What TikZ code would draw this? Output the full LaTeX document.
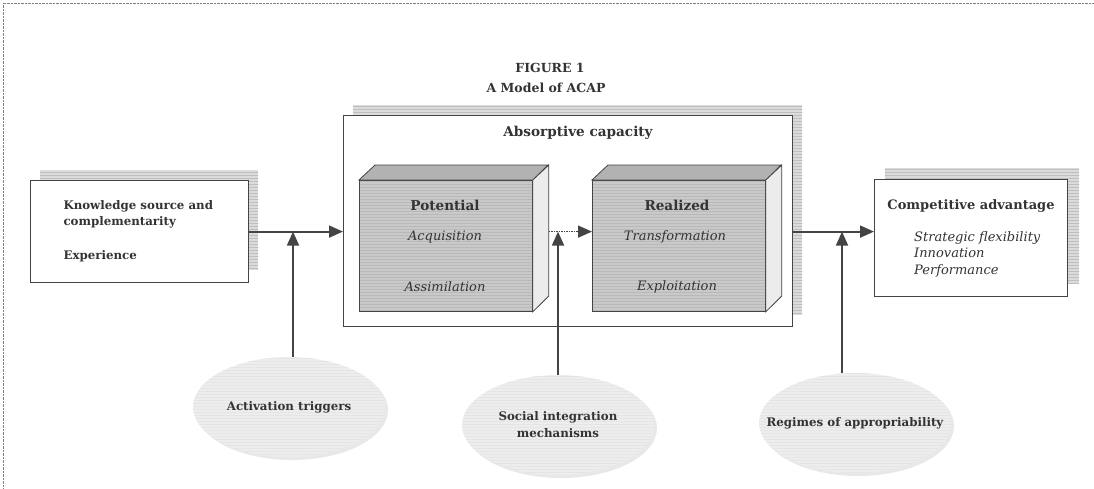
\documentclass[tikz,border=0pt]{standalone}
\usepackage{fontspec}
\setmainfont{DejaVu Serif}
\usepackage{tikz}
\usetikzlibrary{shapes.geometric, arrows.meta, patterns, shadows}
\definecolor{inkgray}{HTML}{333333}
\definecolor{linegray}{HTML}{444444}
\tikzstyle{infobox} = [rectangle, draw=linegray, line width=1.2pt, fill=white, anchor=north west, inner sep=0pt]
\tikzstyle{shadowbox} = [rectangle, anchor=north west, inner sep=0pt, preaction={fill=gray!28}, pattern=horizontal lines, pattern color=gray!50]
\tikzstyle{cubefront} = [rectangle, anchor=north west, inner sep=0pt, draw=linegray, line width=0.8pt, preaction={fill=gray!42}, pattern=horizontal lines, pattern color=gray!55]
\tikzstyle{cubetop} = [draw=linegray, line width=0.8pt, fill=gray!60]
\tikzstyle{cubeside} = [draw=linegray, line width=0.8pt, fill=gray!15]
\tikzstyle{factor} = [ellipse, minimum width=192pt, minimum height=100pt, inner sep=0pt, align=center, text=inkgray, font=\bfseries\fontsize{11.8}{17}\selectfont, preaction={fill=gray!14, drop shadow={shadow xshift=3pt, shadow yshift=-3pt, fill=gray!35}}, pattern=horizontal lines, pattern color=gray!20]
\tikzstyle{heading} = [text=inkgray, font=\bfseries\fontsize{13.6}{16}\selectfont]
\tikzstyle{item} = [text=inkgray, font=\itshape\fontsize{13}{16}\selectfont]
\tikzstyle{arrow} = [draw=linegray, line width=1.8pt, -{Triangle[length=14pt, width=12pt]}]
\tikzstyle{dotarrow} = [draw=linegray, line width=1.5pt, densely dotted, -{Triangle[length=14pt, width=12pt]}]

\begin{document}
\begin{tikzpicture}[x=1pt, y=-1pt]
    \useasboundingbox (0,0) rectangle (1094,488);
    \draw[densely dotted, gray] (3,488) -- (3,3) -- (1094,3);

    % title
    \node[heading, font=\bfseries\fontsize{12.5}{15}\selectfont] (figtitle) at (550,68) {FIGURE 1};
    \node[heading, font=\bfseries\fontsize{12.5}{15}\selectfont] (subtitle) at (546,88) {A Model of ACAP};

    % left box
    \node (knowledgeshadow) [shadowbox, minimum width=218pt, minimum height=100pt] at (40,170) {};
    \node (knowledge) [infobox, minimum width=218pt, minimum height=102pt] at (30,180) {};
    \node (knowledgetext) [anchor=west, align=left, text=inkgray, font=\bfseries\fontsize{11.8}{16}\selectfont] at (60,231) {Knowledge source and\\complementarity\\[18pt]Experience};

    % absorptive capacity
    \node (acapshadow) [shadowbox, minimum width=449pt, minimum height=210pt] at (353,105) {};
    \node (acap) [infobox, minimum width=449pt, minimum height=211pt] at (343,115) {};
    \node (acaptitle) [heading] at (578,133) {Absorptive capacity};

    \node (potential) [cubefront, minimum width=173pt, minimum height=131pt] at (359,180) {};
    \draw[cubetop] (potential.north west) -- ++(16,-15) -- ++(173,0) -- (potential.north east) -- cycle;
    \draw[cubeside] (potential.north east) -- ++(16,-15) -- ++(0,131) -- (potential.south east) -- cycle;
    \node (pottitle) [heading] at (445,205) {Potential};
    \node (acquisition) [item] at (445,237) {Acquisition};
    \node (assimilation) [item] at (445,287) {Assimilation};

    \node (realized) [cubefront, minimum width=173pt, minimum height=131pt] at (592,180) {};
    \draw[cubetop] (realized.north west) -- ++(16,-15) -- ++(173,0) -- (realized.north east) -- cycle;
    \draw[cubeside] (realized.north east) -- ++(16,-15) -- ++(0,131) -- (realized.south east) -- cycle;
    \node (realtitle) [heading] at (677,205) {Realized};
    \node (transformation) [item] at (675,237) {Transformation};
    \node (exploitation) [item] at (677,287) {Exploitation};

    % competitive advantage
    \node (advantageshadow) [shadowbox, minimum width=194pt, minimum height=115pt] at (885,168) {};
    \node (advantage) [infobox, minimum width=193pt, minimum height=117pt] at (874,179) {};
    \node (advtitle) [heading, font=\bfseries\fontsize{13}{16}\selectfont] at (971,206) {Competitive advantage};
    \node (outcomes) [anchor=north west, align=left, text=inkgray, font=\itshape\fontsize{13}{16.5}\selectfont, inner sep=0pt] at (914,231) {Strategic flexibility\\Innovation\\Performance};

    % contingencies
    \node (triggers) [factor] at (289,407) {Activation triggers};
    \node (social) [factor] at (558,425) {Social integration\\mechanisms};
    \node (regimes) [factor] at (855,423) {\makebox[0pt]{Regimes of appropriability}};

    \draw [arrow] (knowledge.east) -- (knowledge.east -| acap.west);
    \draw [dotarrow] ([xshift=16pt]potential.east |- knowledge.east) -- (realized.west |- knowledge.east);
    \draw [arrow] (acap.east |- knowledge.east) -- (advantage.west |- knowledge.east);
    \draw [arrow] ([xshift=4pt]triggers.north) -- ([xshift=4pt]triggers.north |- knowledge.east);
    \draw [arrow] (social.north) -- (social.north |- knowledge.east);
    \draw [arrow] ([xshift=-13pt]regimes.north) -- ([xshift=-13pt]regimes.north |- knowledge.east);
\end{tikzpicture}
\end{document}
